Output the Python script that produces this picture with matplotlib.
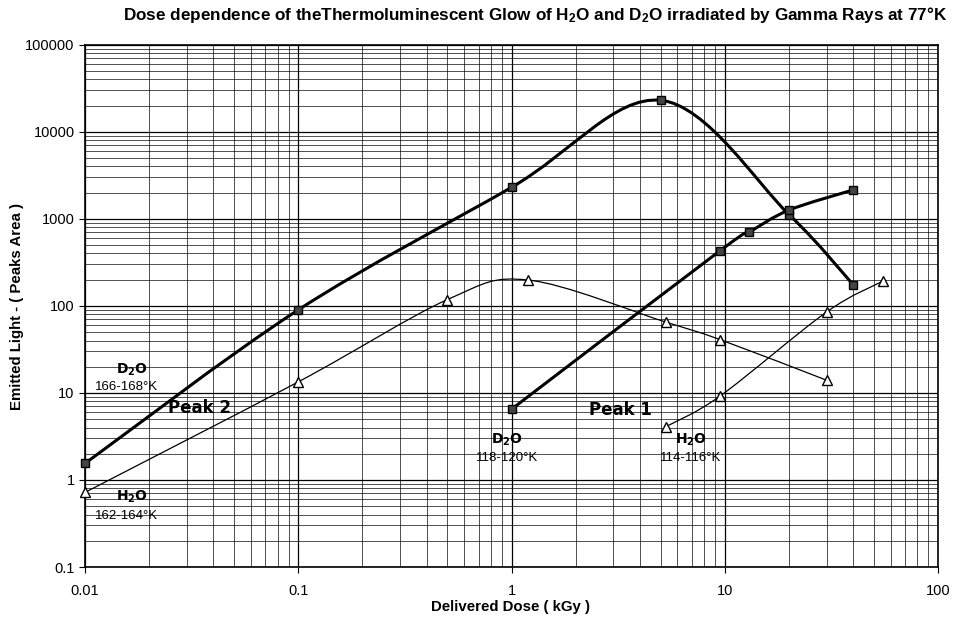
import numpy as np
import matplotlib
matplotlib.use('Agg')
import matplotlib.pyplot as plt
from matplotlib.path import Path
from matplotlib.patches import PathPatch

plt.rcParams['font.family'] = ['Liberation Sans', 'DejaVu Sans']
plt.rcParams['mathtext.default'] = 'regular'

# dose (kGy) / emitted light readings
d2o_p2_dose = [0.01, 0.1, 1, 5, 20, 40]
d2o_p2_light = [1.55, 90, 2300, 23000, 1120, 175]

d2o_p1_dose = [1, 9.5, 13, 20, 40]
d2o_p1_light = [6.5, 430, 700, 1260, 2150]

h2o_p2_dose = [0.01, 0.1, 0.5, 1.2, 5.3, 9.5, 30]
h2o_p2_light = [0.72, 13.4, 118, 198, 65, 41, 14]

h2o_p1_dose = [5.3, 9.5, 30, 55]
h2o_p1_light = [4.1, 9.2, 85, 192]

x_ticks = [0.01, 0.1, 1, 10, 100]
x_labels = ['0.01', '0.1', '1', '10', '100']
y_ticks = [0.1, 1, 10, 100, 1000, 10000, 100000]
y_labels = ['0.1', '1', '10', '100', '1000', '10000', '100000']


def smooth_path(xs, ys):
    # Excel-style smoothed line: cubic Bezier through the points in log space
    lx = np.log10(xs)
    ly = np.log10(ys)
    n = len(lx)
    verts = [(xs[0], ys[0])]
    codes = [Path.MOVETO]
    for i in range(n - 1):
        p0 = max(i - 1, 0)
        p3 = min(i + 2, n - 1)
        c1x = lx[i] + (lx[i + 1] - lx[p0]) / 6
        c1y = ly[i] + (ly[i + 1] - ly[p0]) / 6
        c2x = lx[i + 1] - (lx[p3] - lx[i]) / 6
        c2y = ly[i + 1] - (ly[p3] - ly[i]) / 6
        verts += [(10 ** c1x, 10 ** c1y), (10 ** c2x, 10 ** c2y), (xs[i + 1], ys[i + 1])]
        codes += [Path.CURVE4] * 3
    return Path(verts, codes)


fig = plt.figure(figsize=(9.62, 6.24), dpi=100)
ax = fig.add_axes([0.0884, 0.0913, 0.8867, 0.837])
ax.set_xscale('log')
ax.set_yscale('log')
ax.set_xlim(0.01, 100)
ax.set_ylim(0.1, 100000)

ax.grid(True, which='major', color='black', lw=0.9)
ax.grid(True, which='minor', color='black', lw=0.6, alpha=0.8)
ax.set_axisbelow(True)

series = [
    (d2o_p2_dose, d2o_p2_light, 2.2, 's', '#444444'),
    (d2o_p1_dose, d2o_p1_light, 2.2, 's', '#444444'),
    (h2o_p2_dose, h2o_p2_light, 0.9, '^', 'white'),
    (h2o_p1_dose, h2o_p1_light, 0.9, '^', 'white'),
]
for xs, ys, lw, mk, fc in series:
    ax.add_patch(PathPatch(smooth_path(xs, ys), fill=False, lw=lw, color='black', zorder=3))
    ax.plot(xs, ys, ls='none', marker=mk, ms=6 if mk == 's' else 6.5,
            mfc=fc, mec='black', mew=1.0, zorder=4, clip_on=False)

ax.set_xticks(x_ticks)
ax.set_xticklabels(x_labels)
ax.set_yticks(y_ticks)
ax.set_yticklabels(y_labels)
ax.tick_params(which='major', labelsize=10.5, length=4, direction='out')
ax.tick_params(which='minor', length=0)
ax.tick_params(axis='x', pad=8)
for s in ax.spines.values():
    s.set_linewidth(1.2)

fig.text(511 / 962, 1 - 607 / 624, 'Delivered Dose ( kGy )', ha='center', va='center',
         fontsize=10.8, fontweight='bold')
fig.text(17 / 962, 1 - 306 / 624, 'Emitted Light - ( Peaks Area )', ha='center', va='center',
         rotation=90, fontsize=10.8, fontweight='bold')
fig.text(535 / 962, 1 - 15 / 624, 'Dose dependence of theThermoluminescent Glow of H$_2$O and D$_2$O irradiated by Gamma Rays at 77°K',
         ha='center', va='center', fontsize=12.3, fontweight='bold')

# annotations
def fig_txt(x, y, s, **kw):
    fig.text(x / 962, 1 - y / 624, s, ha='center', va='center', **kw)

lab = dict(fontsize=10, fontweight='bold', family=['DejaVu Sans'])
tmp = dict(fontsize=9.5)
peak = dict(fontsize=12, fontweight='heavy', family=['DejaVu Sans'])
fig_txt(132, 370, 'D$_2$O', **lab)
fig_txt(127, 387, '166-168°K', **tmp)
fig_txt(200, 408, 'Peak 2', **peak)
fig_txt(132, 497, 'H$_2$O', **lab)
fig_txt(127, 516, '162-164°K', **tmp)
fig_txt(507, 440, 'D$_2$O', **lab)
fig_txt(507, 458, '118-120°K', **tmp)
fig_txt(620, 410, 'Peak 1', **peak)
fig_txt(691, 440, 'H$_2$O', **lab)
fig_txt(691, 458, '114-116°K', **tmp)

fig.savefig('out.png', dpi=100)
